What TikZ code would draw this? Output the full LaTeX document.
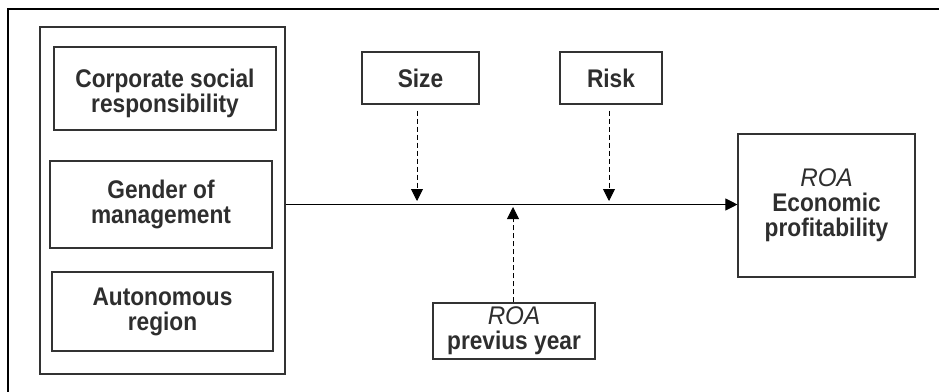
\documentclass[tikz,border=0pt]{standalone}
\usepackage{fontspec}
\setmainfont{Liberation Sans}
\newfontfamily\hvfont[FakeStretch=0.89]{Liberation Sans Bold}
\newfontfamily\hvital[FakeStretch=0.95]{Liberation Sans Italic}
\usetikzlibrary{arrows.meta}
\begin{document}
\begin{tikzpicture}[x=1pt,y=-1pt,
  box/.style={draw=black!80, line width=1.1pt, align=center, inner sep=0pt,
    font=\hvfont\fontsize{25.5}{25}\selectfont, text=black!82},
  txt/.style={align=center, inner sep=0pt, font=\hvfont\fontsize{25.5}{25}\selectfont, text=black!82},
  tip/.style={-{Triangle[length=12pt,width=12pt]}},
  dashline/.style={tip, dash pattern=on 5pt off 3pt, line width=0.9pt}]
\useasboundingbox (0,0) rectangle (939,391);
\clip (0,0) rectangle (939,391);
\fill[white] (0,0) rectangle (939,391);
\draw[line width=2.2pt] (8,9) rectangle (980,420);
% left group
\node[draw=black!80, line width=1.1pt, minimum width=245pt, minimum height=347pt, inner sep=0pt] (grp) at (162.5,200.5) {};
\node[box, minimum width=222pt, minimum height=83pt] (csr) at (165,88.5) {};
\node[txt] (csrtxt) at ([yshift=-5pt]csr.center) {Corporate social\\responsibility};
\node[box, minimum width=222pt, minimum height=87pt] (gen) at (161,204.5) {Gender of\\management};
\node[box, minimum width=221pt, minimum height=79pt] (aut) at (162.5,311.5) {Autonomous\\region};
% moderators
\node[box, minimum width=117pt, minimum height=52pt] (size) at (420.5,78) {Size};
\node[box, minimum width=102pt, minimum height=52pt] (risk) at (611,78) {Risk};
\node[box, minimum width=162pt, minimum height=56pt] (prev) at (514,331) {{\hvital ROA}\\previus year};
\node[box, minimum width=177pt, minimum height=143pt] (roa) at (826.5,205.5) {{\hvital ROA}\\Economic\\profitability};
% main path
\coordinate (ms) at (grp.east |- 0,204.5);
\draw[tip, line width=0.9pt] (ms) -- (roa.west |- ms);
\coordinate (sz) at (417,201);
\coordinate (rk) at (609,201);
\coordinate (pv) at (513,207);
\draw[dashline] ([yshift=-6pt]size.south -| sz) -- (sz);
\draw[dashline] ([yshift=-6pt]risk.south -| rk) -- (rk);
\draw[dashline] (prev.north -| pv) -- (pv);
\end{tikzpicture}
\end{document}
